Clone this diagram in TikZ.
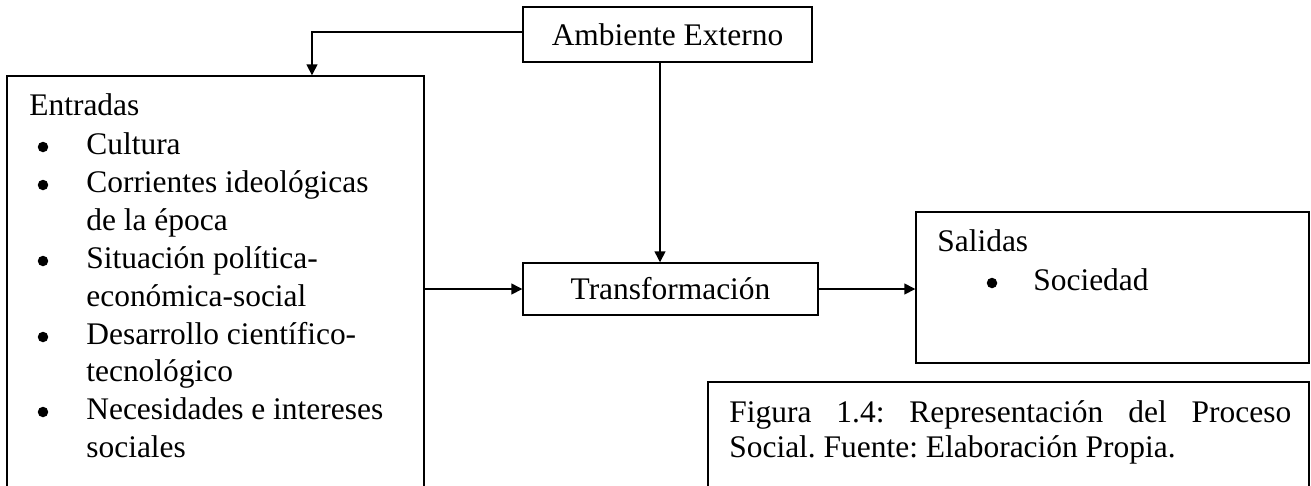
\documentclass[tikz,border=0pt]{standalone}
\usepackage{fontspec}
\setmainfont{Liberation Serif}
\usetikzlibrary{positioning,arrows.meta}
\newcommand{\dfont}{\fontsize{17.9}{21.3}\selectfont}
\frenchspacing
\tikzset{
  box/.style={draw, line width=0.85pt, inner sep=0pt, font=\dfont},
  txt/.style={anchor=base west, inner sep=0pt, font=\dfont},
  blt/.style={circle, fill, inner sep=0pt, minimum size=0.21cm, yshift=0.14cm},
  conn/.style={line width=0.85pt, -{Triangle[length=0.22cm,width=0.22cm]}}
}
\begin{document}
\begin{tikzpicture}[x=0.02cm, y=-0.02cm]
\useasboundingbox (0,0) rectangle (1311,485);
\clip (0,0) rectangle (1311,485);
% boxes
\node[box, minimum width=5.78cm, minimum height=1.1cm] (amb) at (667.5,34.5) {Ambiente Externo};
\node[box, minimum width=8.34cm, minimum height=8.88cm] (ent) at (215.5,298) {};
\node[box, minimum width=5.9cm, minimum height=1.04cm] (tra) at (670.5,289) {Transformación};
\node[box, minimum width=7.86cm, minimum height=3.02cm] (sal) at (1112.5,287.5) {};
\node[box, minimum width=12.02cm, minimum height=2.76cm] (fig) at (1008.5,451) {};
% connectors
\draw[conn] ([yshift=0.05cm]amb.west) -| ([xshift=1.93cm]ent.north);
\draw[conn] ([xshift=-0.15cm]amb.south) -- ([xshift=-0.15cm]amb.south |- tra.north);
\draw[conn] (ent.east |- tra.west) -- (tra.west);
\draw[conn] (tra.east) -- (tra.east -| sal.west);
% entradas
\node[txt] (eT) at (29,115) {Entradas};
\node[blt] (b1) at (43,154) {};
\node[txt] (e1) at (86,154) {Cultura};
\node[blt] (b2) at (43,192) {};
\node[txt] (e2) at (86,192) {Corrientes ideológicas};
\node[txt] (e2b) at (86,230) {de la época};
\node[blt] (b3) at (43,268) {};
\node[txt] (e3) at (86,268) {Situación política-};
\node[txt] (e3b) at (86,306) {económica-social};
\node[blt] (b4) at (43,344) {};
\node[txt] (e4) at (86,344) {Desarrollo científico-};
\node[txt] (e4b) at (86,381) {tecnológico};
\node[blt] (b5) at (43,419) {};
\node[txt] (e5) at (86,419) {Necesidades e intereses};
\node[txt] (e5b) at (86,457) {sociales};
% salidas
\node[txt] (sT) at (937,251) {Salidas};
\node[blt] (b6) at (992,290) {};
\node[txt] (s1) at (1033,290) {Sociedad};
% caption
\node[txt] (f1) at (729,422) {\makebox[11.24cm][s]{Figura 1.4: Representación del Proceso}};
\node[txt] (f2) at (729,457) {Social. Fuente: Elaboración Propia.};
\end{tikzpicture}
\end{document}
